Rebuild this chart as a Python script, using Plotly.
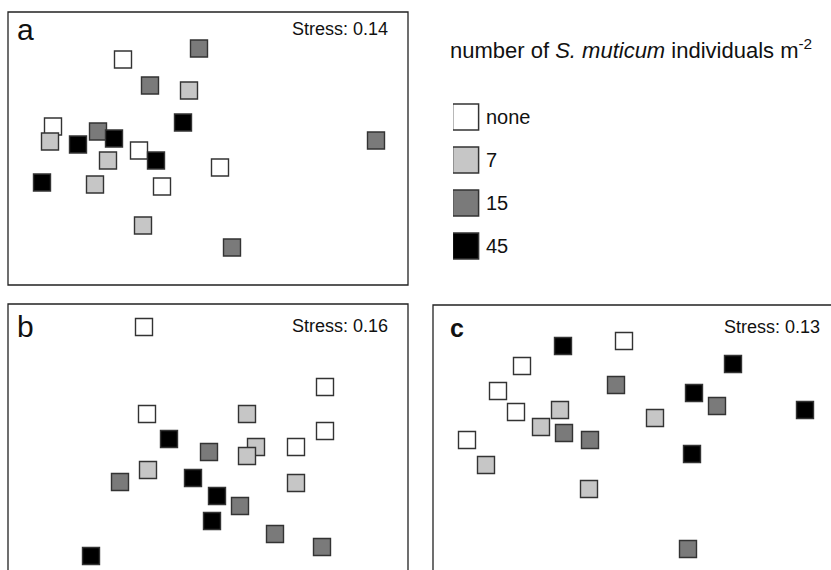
import plotly.graph_objects as go

W, H = 831, 570

groups = ["none", "7", "15", "45"]
fill_colors = ["#ffffff", "#c6c6c6", "#7a7a7a", "#000000"]

# NMDS coordinates (axis1, axis2), per panel and group
a_x = {
    "none": [-0.85, -1.55, -0.69, 0.12, -0.46],
    "7": [-0.19, -1.58, -1.00, -1.13, -0.65],
    "15": [-0.09, -0.58, -1.10, 0.24, 1.68],
    "45": [-0.25, -0.94, -1.30, -0.52, -1.66],
}
a_y = {
    "none": [0.89, 0.22, -0.02, -0.19, -0.38],
    "7": [0.58, 0.07, -0.12, -0.36, -0.77],
    "15": [1.00, 0.63, 0.17, -0.99, 0.08],
    "45": [0.26, 0.10, 0.04, -0.12, -0.34],
}
b_x = {
    "none": [-0.64, 1.17, -0.61, 1.17, 0.88],
    "7": [0.39, 0.48, 0.39, -0.60, 0.88],
    "15": [0.01, -0.88, 0.32, 0.67, 1.14],
    "45": [-0.39, -0.15, 0.09, 0.04, -1.17],
}
b_y = {
    "none": [1.10, 0.50, 0.23, 0.06, -0.10],
    "7": [0.23, -0.10, -0.19, -0.33, -0.46],
    "15": [-0.15, -0.45, -0.69, -0.97, -1.10],
    "45": [-0.02, -0.41, -0.59, -0.84, -1.19],
}
c_x = {
    "none": [-0.09, -1.11, -1.35, -1.17, -1.66],
    "7": [-0.73, 0.22, -0.92, -1.47, -0.44],
    "15": [-0.17, 0.84, -0.69, -0.43, 0.55],
    "45": [-0.70, 1.00, 0.61, 1.72, 0.59],
}
c_y = {
    "none": [0.96, 0.71, 0.46, 0.25, -0.03],
    "7": [0.27, 0.19, 0.10, -0.28, -0.52],
    "15": [0.52, 0.31, 0.04, -0.03, -1.12],
    "45": [0.91, 0.73, 0.44, 0.27, -0.17],
}
stress_labels = ["Stress: 0.14", "Stress: 0.16", "Stress: 0.13"]
panel_letters = ["a", "b", "c"]
legend_title = "number of <i>S. muticum</i> individuals m<sup>-2</sup>"

FONT = "Liberation Sans, Arial, Helvetica, sans-serif"
EDGE = "#333333"
TXT = "#111111"


def px(x):
    return x / W


def py(y):
    return 1 - y / H


fig = go.Figure()

panels = [
    ("x", "y", a_x, a_y),
    ("x2", "y2", b_x, b_y),
    ("x3", "y3", c_x, c_y),
]
for xa, ya, dx, dy in panels:
    for g, col in zip(groups, fill_colors):
        fig.add_trace(go.Scatter(
            x=dx[g], y=dy[g], xaxis=xa, yaxis=ya, mode="markers",
            marker=dict(symbol="square", size=17, color=col,
                        line=dict(color=EDGE, width=1.4)),
            showlegend=False, hoverinfo="skip"))

# legend drawn on its own axis
fig.add_trace(go.Scatter(
    x=[0] * len(groups), y=list(range(len(groups))), xaxis="x4", yaxis="y4",
    mode="markers",
    marker=dict(symbol="square", size=26, color=fill_colors,
                line=dict(color=EDGE, width=1.5)),
    showlegend=False, hoverinfo="skip"))
for i, g in enumerate(groups):
    fig.add_annotation(text=g, xref="x4", yref="y4", x=0, y=i, xshift=18,
                       xanchor="left", yanchor="middle", showarrow=False,
                       font=dict(size=20, family=FONT, color=TXT))

hidden = dict(visible=False, showgrid=False, zeroline=False, fixedrange=True)
layout = dict(
    width=W, height=H, margin=dict(l=0, r=0, t=0, b=0),
    paper_bgcolor="white", plot_bgcolor="rgba(0,0,0,0)",
    font=dict(family=FONT, color=TXT),
    xaxis=dict(domain=[px(8), px(408)], range=[-2, 2], anchor="y", **hidden),
    yaxis=dict(domain=[py(285), py(12)], range=[-1.365, 1.365], anchor="x", **hidden),
    xaxis2=dict(domain=[px(8), px(408)], range=[-2, 2], anchor="y2", **hidden),
    yaxis2=dict(domain=[0, py(304)], range=[-1.33, 1.33], anchor="x2", **hidden),
    xaxis3=dict(domain=[px(433), 1], range=[-2, 1.98], anchor="y3", **hidden),
    yaxis3=dict(domain=[0, py(305)], range=[-1.33, 1.32], anchor="x3", **hidden),
    xaxis4=dict(domain=[px(453), 1], range=[-0.5, 14.5], anchor="y4", **hidden),
    yaxis4=dict(domain=[py(267.5), py(95.5)], range=[3.5, -0.5], anchor="x4", **hidden),
)
fig.update_layout(**layout)

# panel frames
frames = [(8, 12, 408, 285), (8, 304, 408, 600), (433, 305, 860, 600)]
for x0, y0, x1, y1 in frames:
    fig.add_shape(type="rect", xref="paper", yref="paper",
                  x0=px(x0), x1=px(x1), y0=py(y1), y1=py(y0),
                  line=dict(color="#222222", width=1.3), fillcolor="rgba(0,0,0,0)")

# panel letters
fig.add_annotation(text="a", xref="paper", yref="paper", x=px(15), y=py(30),
                   xanchor="left", yanchor="middle", showarrow=False,
                   font=dict(size=30, family=FONT, color=TXT))
fig.add_annotation(text="b", xref="paper", yref="paper", x=px(15), y=py(326),
                   xanchor="left", yanchor="middle", showarrow=False,
                   font=dict(size=30, family=FONT, color=TXT))
fig.add_annotation(text="<b>c</b>", xref="paper", yref="paper", x=px(448), y=py(328),
                   xanchor="left", yanchor="middle", showarrow=False,
                   font=dict(size=25, family=FONT, color=TXT))

# stress labels
for (xr, yc), s in zip([(390, 29), (390, 326), (822, 327)], stress_labels):
    fig.add_annotation(text=s, xref="paper", yref="paper", x=px(xr), y=py(yc),
                       xanchor="right", yanchor="middle", showarrow=False,
                       font=dict(size=18, family=FONT, color=TXT))

# legend title
fig.add_annotation(text=legend_title, xref="paper", yref="paper", x=px(448), y=py(49),
                   xanchor="left", yanchor="middle", showarrow=False,
                   font=dict(size=22, family=FONT, color=TXT))

fig.write_html("out.html",
               config={"displayModeBar": False, "staticPlot": True},
               post_script="document.body.style.margin='0px';"
                           "document.body.style.overflow='hidden';")
